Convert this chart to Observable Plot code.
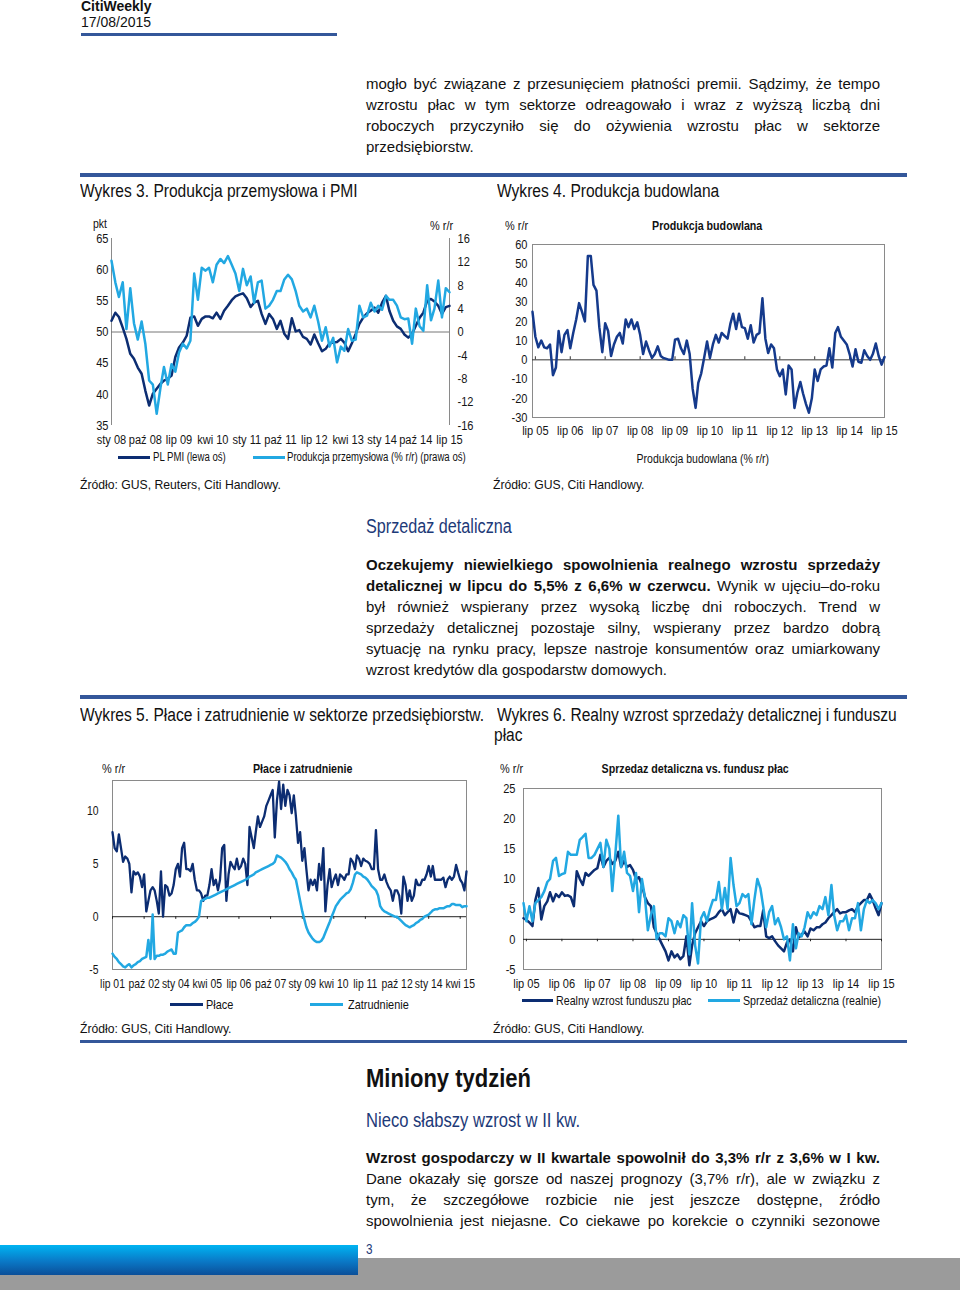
<!DOCTYPE html>
<html><head><meta charset="utf-8">
<script src="https://cdn.jsdelivr.net/npm/d3@7"></script>
<script src="https://cdn.jsdelivr.net/npm/@observablehq/plot@0.6"></script>
<style>
html,body{margin:0;padding:0}
body{width:960px;height:1290px;position:relative;background:#fff;overflow:hidden;font-family:"Liberation Sans",Arial,sans-serif;color:#111}
.a{position:absolute;white-space:nowrap}
.para{position:absolute;left:366px;width:514px;font-size:15px;line-height:21px;color:#111}
.para div{text-align:justify;text-align-last:justify;height:21px;overflow:visible}
.para div.last{text-align-last:left}
.rule{position:absolute;background:#34579a}
.chart{position:absolute}
.lg{position:absolute;height:3px}
</style></head><body>
<script>
// ---------------- DATA ----------------
const pmiStart = "sty 08";
const pmiValues = [51.8,53.1,52.4,50.7,48.9,46.5,45.7,44.3,43.3,40.6,38.2,40.1,40.9,41.7,42.2,42.5,43.0,46.0,47.5,48.3,49.4,52.3,52.5,51.0,52.1,52.5,52.5,52.2,53.1,52.1,53.4,54.2,55.1,55.7,56.0,56.2,55.4,54.0,54.7,55.0,52.9,51.3,52.9,52.1,50.5,51.8,49.7,48.9,52.2,50.1,50.3,49.2,48.9,48.0,49.6,48.2,46.9,47.3,48.2,48.3,48.4,48.9,48.3,46.9,48.2,49.7,51.3,52.3,53.0,53.4,53.9,53.1,54.7,55.8,53.4,51.8,50.9,50.5,49.6,49.1,49.7,51.0,52.3,53.1,55.0,55.3,54.9,54.2,52.9,54.0,54.2];
const prodValues = [12.2,8.5,6.0,8.5,0.5,7.5,1.5,-1.3,1.8,-2.0,-8.3,-9.0,-14.0,-9.5,-6.0,-9.0,-5.5,-6.8,-3.5,-2.0,-2.8,-1.5,10.0,5.5,11.0,10.5,11.0,8.5,11.5,12.5,11.8,13.0,11.5,10.0,7.0,10.8,8.0,9.5,5.0,8.5,8.8,4.0,4.5,5.5,7.0,7.0,9.0,9.8,9.0,7.0,4.5,3.5,4.0,2.5,4.5,1.8,-1.5,0.8,-2.5,-1.0,-5.2,-2.5,-3.2,0.5,-1.5,-1.3,4.5,2.5,2.8,5.0,3.5,4.5,3.8,6.2,5.5,5.5,4.5,2.5,2.2,2.3,-2.0,4.0,1.0,0.2,8.0,2.0,4.0,8.8,2.5,7.5,6.8];
const chart3XLabels = ["sty 08","paź 08","lip 09","kwi 10","sty 11","paź 11","lip 12","kwi 13","sty 14","paź 14","lip 15"];
const chart3LeftTicks = [35,40,45,50,55,60,65];
const chart3RightTicks = [-16,-12,-8,-4,0,4,8,12,16];

const budStart = "cze 05";
const budValues = [25,12,6.5,10,6.5,6,8,-8,-4,15,4,13,15.5,6,14,21,29.5,25,20,54,54,39,36,17,4,19,15,2,8,12,14,8.5,21,17,21,16,19.5,13,3,9.5,5,1,3,7,2,1,0.5,0,0,10.5,11,6,3,10,3,-15,-25,-12,-7,1,9.5,1,8,13,9,14,12.5,11,19,24,16,24,17,16.5,11,18,9,13,14,32,11,3.5,8,6,-5,-8.5,-5,-18,-3,-5,-25,-17,-11.5,-17.5,-23,-27.5,-20,-5,-11,-5,-3.5,-3,6,-4,14,17,12,10,8,3,-3.5,5.5,-1,-1.5,5,2,0,3,8.5,2,-2.5,1.5];
const chart4XLabels = ["lip 05","lip 06","lip 07","lip 08","lip 09","lip 10","lip 11","lip 12","lip 13","lip 14","lip 15"];
const chart4YTicks = [-30,-20,-10,0,10,20,30,40,50,60];

const wageStart = "lip 01";
const placeValues = [8.0,6.5,6.2,7.8,6.5,5.2,5.7,5.5,5.0,2.3,4.3,4.0,4.2,3.8,2.8,4.0,0.5,1.5,2.5,2.8,2.5,1.5,0.3,4.3,0.0,3.0,2.8,2.0,2.2,3.0,4.5,5.0,3.8,6.5,7.0,4.5,4.5,4.3,5.0,3.5,2.5,2.5,2.2,1.5,2.0,2.0,3.0,4.5,3.0,3.5,2.5,3.5,6.5,6.8,1.5,4.0,5.2,4.8,4.5,5.5,4.5,4.8,5.5,5.0,3.0,8.5,7.5,6.5,8.0,9.5,8.5,9.0,9.5,10.5,11.0,11.5,12.0,7.5,11.0,12.8,10.2,12.5,10.5,12.0,11.5,9.8,11.5,9.5,7.0,8.0,5.3,6.5,4.5,2.5,3.5,3.0,3.5,2.5,5.0,3.5,6.5,0.5,3.0,4.5,2.8,3.5,4.0,3.0,4.0,3.8,3.5,4.0,4.0,5.5,5.2,4.5,5.8,5.5,4.8,5.5,5.3,5.2,5.0,4.5,4.5,8.2,4.5,3.5,3.5,4.0,3.3,2.8,2.5,1.5,2.5,2.5,2.0,0.3,3.8,3.0,1.5,2.5,1.5,2.0,3.5,3.0,3.0,3.5,3.5,4.0,4.8,3.8,4.8,3.5,3.5,3.5,3.5,3.7,2.8,3.5,3.8,3.5,3.8,4.9,4.2,3.5,3.2,2.5,4.3];
const zatrValues = [-3.5,-3.8,-4.0,-4.3,-4.5,-4.7,-4.8,-4.6,-4.5,-4.8,-4.6,-4.5,-4.3,-4.2,-4.0,-3.9,-3.8,-2.2,-4.0,0.2,-4.0,-3.7,-3.7,-3.6,-3.6,-3.5,-3.3,-3.2,-3.1,-3.5,-3.5,-1.5,-1.4,-1.3,-1.0,-0.8,-0.8,-0.8,-0.6,-0.5,-0.3,0.0,1.5,1.6,1.7,1.8,1.8,1.9,2.0,2.1,2.2,2.3,2.4,2.5,2.6,2.7,2.8,2.9,3.0,3.1,3.2,3.3,3.4,3.5,3.6,3.8,3.9,4.0,4.2,4.3,4.4,4.5,4.6,4.7,4.8,4.9,5.0,5.2,5.8,5.7,5.6,5.4,5.2,4.9,4.5,4.2,3.8,3.5,2.5,1.5,0.5,-0.3,-1.0,-1.5,-1.8,-2.1,-2.3,-2.4,-2.4,-2.3,-2.0,-1.5,-1.0,-0.5,0.0,0.5,1.0,1.3,1.6,1.8,2.0,2.2,2.3,2.6,3.2,4.0,4.2,4.1,4.0,3.8,3.7,3.5,3.2,2.9,2.7,2.5,2.0,1.0,0.7,0.5,0.4,0.3,0.2,0.1,0.0,0.0,-0.2,-0.4,-0.6,-0.8,-0.9,-1.0,-0.9,-0.8,-0.6,-0.5,-0.3,-0.2,0.0,0.1,0.2,0.4,0.6,0.7,0.7,0.8,0.8,0.8,0.9,1.0,1.0,1.2,1.2,1.1,1.1,1.1,0.9,1.0,1.0];
const chart5XLabels = ["lip 01","paź 02","sty 04","kwi 05","lip 06","paź 07","sty 09","kwi 10","lip 11","paź 12","sty 14","kwi 15"];
const chart5YTicks = [-5,0,5,10];

const retailStart = "cze 05";
const funduszValues = [3.5,3.2,2.8,2.2,6.5,8.5,3.3,5.5,6.3,7.8,6.3,7.5,7,7.8,7.2,7.3,7,5.5,11.3,10,9,11,10.5,11,11.5,11.8,14,12,13,13.5,12.5,13,14.5,12,13,12,12.3,11.5,10,10.3,9,7,6,5.5,2,1,0,-1,-2,-3.5,-2,-3,-2.5,-3.3,-2.8,0.5,-4.3,-1,1,2,3,2.2,3,3.3,3.5,3.8,4.5,5,4,4.5,5,2.8,5,4.3,4.2,4,3.8,3,2,2.2,2.2,4.8,0.5,0.2,0.5,-0.3,-1,-1.5,-2,-0.5,0,-2,2,0.3,0.8,1.3,0.5,1.8,1.5,2,2,2.5,2.8,3.5,4,4.5,5,4.3,4.5,4.5,4.8,5,4.5,5.5,6,6.5,6.5,7.5,6.5,5.2,4,6];
const sprzedazValues = [6,3,5.5,3,6,6.5,7,8,9.5,10,13,13.5,10.5,10.8,11,14.5,14,14,14,16.5,17,17.5,13.5,13.5,14,15,16,12,16.5,15,8,14,20.5,12,14.5,11,10.5,8,11,4.5,10,7,1.5,4,5.5,0,1,1,0.5,3.5,3,1,3,2,4,3.5,-2.5,6,-1,-4,3.5,4.5,3,5,6.5,6.5,9.5,5,8.5,5,13.5,9,5.5,6,7.5,7,7.5,2.5,6.5,10,8.5,5.5,2,4.5,5.5,2.5,3.5,2,0,0.5,-3.5,2.5,-1.5,1,0.5,2,4.5,3.5,4.5,4,5.5,5,7,4,9,4,1.5,3,3,4,1.5,3.5,3.5,6,1.5,5,6.5,6,6.5,6,5,6];
const chart6XLabels = ["lip 05","lip 06","lip 07","lip 08","lip 09","lip 10","lip 11","lip 12","lip 13","lip 14","lip 15"];
const chart6YTicks = [-5,0,5,10,15,20,25];

// ---------------- HELPERS ----------------
const FONT = '"Liberation Sans",Arial,sans-serif';
const NAVY = "#0c2d72", LIGHT = "#22a8e2", FRAME = "#8a8a8a";
const PLM = {"sty":0,"lut":1,"mar":2,"kwi":3,"maj":4,"cze":5,"lip":6,"sie":7,"wrz":8,"paź":9,"lis":10,"gru":11};
const parseLab = s => { const [m, y] = s.split(" "); return new Date(Date.UTC(2000 + (+y), PLM[m], 1)); };
const monthsFrom = (start, n) => d3.range(n).map(i => d3.utcMonth.offset(parseLab(start), i));
const labelMap = labels => new Map(labels.map(l => [+parseLab(l), l]));
const plain = d => String(d);

function el(tag, cls, style, html) {
  const e = document.createElement(tag);
  if (cls) e.className = cls;
  Object.assign(e.style, style || {});
  if (html != null) e.innerHTML = html;
  document.body.appendChild(e);
  return e;
}
// text placed by left x (or centre x) and vertical centre y; sx = horizontal condensing
function txt(x, y, html, size, opts = {}) {
  const lh = Math.round(size * (opts.lh || 1.3));
  const sx = opts.sx || 1;
  const s = {left: x + "px", top: (y - lh / 2) + "px", fontSize: size + "px", lineHeight: lh + "px"};
  if (opts.center) { s.left = (x - 300) + "px"; s.width = "600px"; s.textAlign = "center"; }
  Object.assign(s, opts.style || {});
  const origin = opts.center ? "center" : "left";
  return el("div", "a", s, `<span style="display:inline-block;transform:scaleX(${sx});transform-origin:${origin} center">${html}</span>`);
}
function rule(x1, x2, y, h) { el("div", "rule", {left: x1 + "px", width: (x2 - x1) + "px", top: y + "px", height: h + "px"}); }
function para(top, lines, justifyLast) {
  const p = el("div", "para", {top: top + "px"});
  lines.forEach((l, i) => {
    const d = document.createElement("div");
    if (i === lines.length - 1 && !justifyLast) d.className = "last";
    d.innerHTML = l;
    p.appendChild(d);
  });
}
function legendLine(x1, x2, y, color) { el("div", "lg", {left: x1 + "px", width: (x2 - x1) + "px", top: (y - 1.5) + "px", background: color}); }
// condense the svg's texts horizontally around their own anchor, like a narrow typeface
function condense(svg, sx) {
  svg.querySelectorAll("text").forEach(t => {
    const ax = +(t.getAttribute("x") || 0);
    const tr = t.getAttribute("transform") || "";
    t.setAttribute("transform", `${tr} translate(${ax},0) scale(${sx},1) translate(${-ax},0)`);
  });
}
function place(svg, left, top, sx) { condense(svg, sx); svg.classList.add("chart"); svg.style.left = left + "px"; svg.style.top = top + "px"; document.body.appendChild(svg); }

const baseStyle = {fontFamily: FONT, fontSize: "13.5px", color: "#151515", background: "transparent", overflow: "visible"};
const HEAD = 18, HEADSX = 0.865;

// ---------------- PAGE TEXT ----------------
txt(81, 6, "<b>CitiWeekly</b>", 14);
txt(81, 22, "17/08/2015", 14);
rule(81, 337, 33, 3);

para(73, [
  "mogło być związane z przesunięciem płatności premii. Sądzimy, że tempo",
  "wzrostu płac w tym sektorze odreagowało i wraz z wyższą liczbą dni",
  "roboczych przyczyniło się do ożywienia wzrostu płac w sektorze",
  "przedsiębiorstw."
]);
rule(80, 907, 173, 4);
txt(80, 191, "Wykres 3. Produkcja przemysłowa i PMI", HEAD, {sx: HEADSX});
txt(497, 191, "Wykres 4. Produkcja budowlana", HEAD, {sx: HEADSX});

// ---------------- CHART 3 ----------------
{
  const dates = monthsFrom(pmiStart, pmiValues.length);
  const rows = dates.map((d, i) => ({date: d, pmi: pmiValues[i], prod: prodValues[i]}));
  const right = d3.scaleLinear([-16, 16], [35, 65]);
  const labs = labelMap(chart3XLabels);
  const tickDates = chart3XLabels.map(parseLab);
  const svg = Plot.plot({
    width: 400, height: 235, marginLeft: 31, marginRight: 31, marginTop: 23, marginBottom: 25,
    style: baseStyle,
    x: {type: "utc", domain: [dates[0], dates[dates.length - 1]], axis: null},
    y: {domain: [35, 65], axis: null},
    marks: [
      Plot.axisY({ticks: chart3LeftTicks, tickFormat: plain, tickSize: 0, tickPadding: 3, label: null}),
      Plot.axisY({anchor: "right", ticks: chart3RightTicks.map(right), tickFormat: v => String(Math.round(right.invert(v))), tickSize: 0, tickPadding: 8, label: null, textAnchor: "start"}),
      Plot.axisX({ticks: tickDates, tickFormat: d => labs.get(+d), tickSize: 0, tickPadding: 9, label: null}),
      Plot.ruleX([dates[0], dates[dates.length - 1]], {stroke: FRAME}),
      Plot.ruleY([50], {stroke: "#777"}),
      Plot.line(rows, {x: "date", y: "pmi", stroke: NAVY, strokeWidth: 2.5}),
      Plot.line(rows, {x: "date", y: d => right(d.prod), stroke: LIGHT, strokeWidth: 2.5})
    ]
  });
  place(svg, 80, 215, 0.82);
  txt(93, 224, "pkt", 12.5, {sx: 0.84, lh: 1});
  txt(430, 225, "% r/r", 13, {sx: 0.84});
  legendLine(118, 150, 457, NAVY);
  txt(153, 457, "PL PMI (lewa oś)", 12, {sx: 0.8});
  legendLine(253, 285, 457, LIGHT);
  txt(287, 457, "Produkcja przemysłowa (% r/r) (prawa oś)", 12, {sx: 0.8});
}

// ---------------- CHART 4 ----------------
{
  const dates = monthsFrom(budStart, budValues.length);
  const rows = dates.map((d, i) => ({date: d, v: budValues[i]}));
  const labs = labelMap(chart4XLabels);
  const tickDates = chart4XLabels.map(parseLab);
  const svg = Plot.plot({
    width: 420, height: 235, marginLeft: 42, marginRight: 26, marginTop: 29, marginBottom: 33,
    style: baseStyle,
    x: {type: "utc", domain: [dates[0], dates[dates.length - 1]], axis: null},
    y: {domain: [-30, 60], axis: null},
    marks: [
      Plot.frame({stroke: FRAME}),
      Plot.axisY({ticks: chart4YTicks, tickFormat: plain, tickSize: 0, tickPadding: 5, label: null}),
      Plot.axisX({ticks: tickDates, tickFormat: d => labs.get(+d), tickSize: 0, tickPadding: 8, label: null}),
      Plot.ruleY([0], {stroke: "#333"}),
      Plot.ruleX(tickDates, {x: d => d, y1: 0, y2: 1.6, stroke: "#333"}),
      Plot.line(rows, {x: "date", y: "v", stroke: "#153a8c", strokeWidth: 2.5})
    ]
  });
  place(svg, 490, 215, 0.82);
  txt(505, 225, "% r/r", 13, {sx: 0.84});
  txt(707, 225, "<b>Produkcja budowlana</b>", 13, {center: true, sx: 0.82});
  txt(703, 459, "Produkcja budowlana (% r/r)", 12.5, {center: true, sx: 0.84});
}
txt(80, 485, "Źródło: GUS, Reuters, Citi Handlowy.", 12.2);
txt(493, 485, "Źródło: GUS, Citi Handlowy.", 12.2);

txt(366, 526, "Sprzedaż detaliczna", 19.5, {sx: 0.83, style: {color: "#1d3a78"}});
para(554, [
  "<b>Oczekujemy niewielkiego spowolnienia realnego wzrostu sprzedaży</b>",
  "<b>detalicznej w lipcu do 5,5% z 6,6% w czerwcu.</b> Wynik w ujęciu–do-roku",
  "był również wspierany przez wysoką liczbę dni roboczych. Trend w",
  "sprzedaży detalicznej pozostaje silny, wspierany przez bardzo dobrą",
  "sytuację na rynku pracy, lepsze nastroje konsumentów oraz umiarkowany",
  "wzrost kredytów dla gospodarstw domowych."
]);
rule(80, 907, 695, 4);
txt(80, 715, "Wykres 5. Płace i zatrudnienie w sektorze przedsiębiorstw.", HEAD, {sx: HEADSX});
txt(497, 715, "Wykres 6. Realny wzrost sprzedaży detalicznej i funduszu", HEAD, {sx: HEADSX});
txt(494, 735, "płac", HEAD, {sx: HEADSX});

// ---------------- CHART 5 ----------------
{
  const dates = monthsFrom(wageStart, placeValues.length);
  const rows = dates.map((d, i) => ({date: d, p: placeValues[i], z: zatrValues[i]}));
  const labs = labelMap(chart5XLabels);
  const tickDates = chart5XLabels.map(parseLab);
  const svg = Plot.plot({
    width: 400, height: 235, marginLeft: 32, marginRight: 14, marginTop: 20, marginBottom: 26,
    style: {...baseStyle, fontSize: "13px"},
    x: {type: "utc", domain: [dates[0], dates[dates.length - 1]], axis: null},
    y: {domain: [-5, 12.9], axis: null},
    marks: [
      Plot.frame({stroke: FRAME}),
      Plot.axisY({ticks: chart5YTicks, tickFormat: plain, tickSize: 0, tickPadding: 14, label: null}),
      Plot.axisX({ticks: tickDates, tickFormat: d => labs.get(+d), tickSize: 0, tickPadding: 9, label: null}),
      Plot.ruleY([0], {stroke: "#222"}),
      Plot.ruleX(tickDates, {x: d => d, y1: 0, y2: -0.25, stroke: "#222"}),
      Plot.line(rows, {x: "date", y: "p", stroke: NAVY, strokeWidth: 2.3}),
      Plot.line(rows, {x: "date", y: "z", stroke: LIGHT, strokeWidth: 2.5})
    ]
  });
  place(svg, 80, 760, 0.8);
  txt(102, 768, "% r/r", 13, {sx: 0.84});
  txt(303, 768, "<b>Płace i zatrudnienie</b>", 13, {center: true, sx: 0.82});
  legendLine(170, 203, 1004, NAVY);
  txt(206, 1004, "Płace", 13, {sx: 0.84});
  legendLine(310, 343, 1004, LIGHT);
  txt(348, 1004, "Zatrudnienie", 13, {sx: 0.84});
}

// ---------------- CHART 6 ----------------
{
  const dates = monthsFrom(retailStart, funduszValues.length);
  const rows = dates.map((d, i) => ({date: d, f: funduszValues[i], s: sprzedazValues[i]}));
  const labs = labelMap(chart6XLabels);
  const tickDates = chart6XLabels.map(parseLab);
  const svg = Plot.plot({
    width: 420, height: 235, marginLeft: 33, marginRight: 29, marginTop: 28, marginBottom: 26,
    style: baseStyle,
    x: {type: "utc", domain: [dates[0], dates[dates.length - 1]], axis: null},
    y: {domain: [-5, 25], axis: null},
    marks: [
      Plot.frame({stroke: FRAME}),
      Plot.axisY({ticks: chart6YTicks, tickFormat: plain, tickSize: 0, tickPadding: 8, label: null}),
      Plot.axisX({ticks: tickDates, tickFormat: d => labs.get(+d), tickSize: 0, tickPadding: 9, label: null}),
      Plot.ruleY([0], {stroke: "#222"}),
      Plot.ruleX(tickDates, {x: d => d, y1: 0, y2: -0.4, stroke: "#222"}),
      Plot.line(rows, {x: "date", y: "f", stroke: NAVY, strokeWidth: 2.5}),
      Plot.line(rows, {x: "date", y: "s", stroke: LIGHT, strokeWidth: 2.5})
    ]
  });
  place(svg, 490, 760, 0.82);
  txt(500, 768, "% r/r", 13, {sx: 0.84});
  txt(695, 768, "<b>Sprzedaz detaliczna vs. fundusz płac</b>", 13, {center: true, sx: 0.82});
  legendLine(522, 553, 1000, NAVY);
  txt(556, 1000, "Realny wzrost funduszu płac", 13, {sx: 0.82});
  legendLine(708, 740, 1000, LIGHT);
  txt(743, 1000, "Sprzedaż detaliczna (realnie)", 13, {sx: 0.82});
}
txt(80, 1029, "Źródło: GUS, Citi Handlowy.", 12.2);
txt(493, 1029, "Źródło: GUS, Citi Handlowy.", 12.2);
rule(80, 907, 1040, 3);

txt(366, 1078, "<b>Miniony tydzień</b>", 25, {sx: 0.88});
txt(366, 1120, "Nieco słabszy wzrost w II kw.", 20, {sx: 0.83, style: {color: "#1d3a78"}});
para(1147, [
  "<b>Wzrost gospodarczy w II kwartale spowolnił do 3,3% r/r z 3,6% w I kw.</b>",
  "Dane okazały się gorsze od naszej prognozy (3,7% r/r), ale w związku z",
  "tym, że szczegółowe rozbicie nie jest jeszcze dostępne, źródło",
  "spowolnienia jest niejasne. Co ciekawe po korekcie o czynniki sezonowe"
], true);

// ---------------- FOOTER ----------------
el("div", "", {position: "absolute", left: "358px", top: "1258px", width: "602px", height: "32px", background: "#9b9b9b"});
el("div", "", {position: "absolute", left: "0px", top: "1275px", width: "358px", height: "15px", background: "#9b9b9b"});
el("div", "", {position: "absolute", left: "0px", top: "1245px", width: "358px", height: "30px", background: "linear-gradient(#00b4f2, #0a78c6 55%, #0b4f99)"});
txt(366, 1249, "3", 14, {sx: 0.84, style: {color: "#1d3a78"}});
</script>
</body></html>
